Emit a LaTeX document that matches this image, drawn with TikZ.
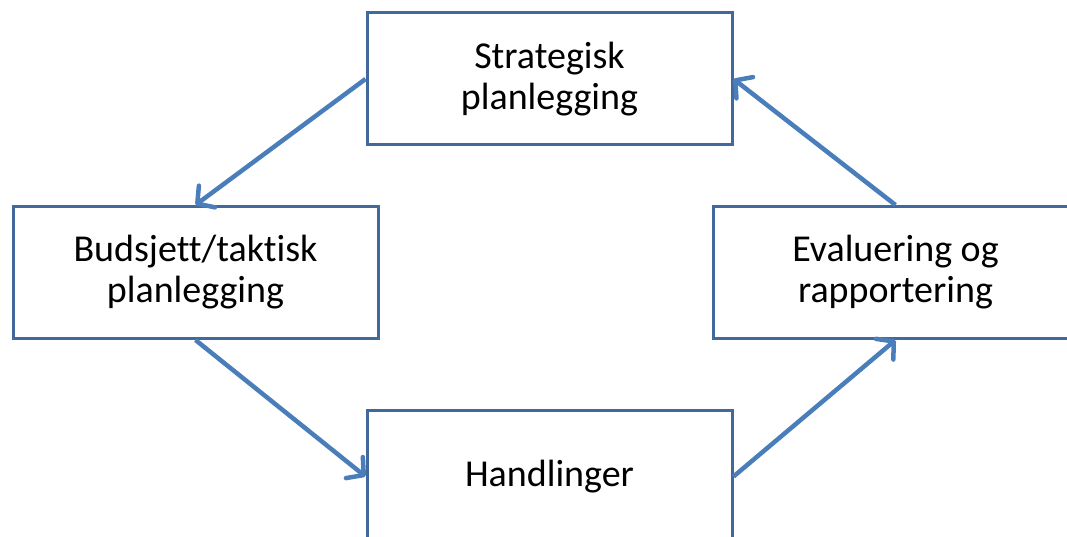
\documentclass[tikz,border=0pt]{standalone}
\usepackage{fontspec}
\setmainfont{Carlito}[RawFeature={-liga;-clig}]
\usetikzlibrary{arrows.meta}
\definecolor{boxline}{HTML}{41699C}
\definecolor{flow}{HTML}{4A7EBB}
\tikzset{
  stagebox/.style={draw=boxline, line width=3pt, fill=white, rectangle,
    minimum width=365pt, minimum height=132pt, inner sep=0pt,
    align=center, font=\fontsize{38}{41}\selectfont},
  flowarrow/.style={draw=flow, line width=4.5pt,
    -{Straight Barb[length=12pt, width=27pt, line cap=round, line join=round]}}
}
\begin{document}
\begin{tikzpicture}[x=1pt, y=-1pt]
  \useasboundingbox (0,0) rectangle (1067,537);
  % the four stages of the planning cycle
  \node[stagebox] (strat) at (549.5,79) {Strategisk\\planlegging};
  \node[stagebox] (budget) at (195.5,272.5) {Budsjett/taktisk\\planlegging};
  \node[stagebox] (eval) at (895.5,272.5) {Evaluering og\\rapportering};
  \node[stagebox, minimum height=133pt] (act) at (549.5,476.5) {Handlinger};
  % the cycle, clockwise from strategy
  \draw[flowarrow] (strat.west) -- (budget.north);
  \draw[flowarrow] (budget.south) -- (act.west);
  \draw[flowarrow] (act.east) -- (eval.south);
  \draw[flowarrow] (eval.north) -- (strat.east);
\end{tikzpicture}
\end{document}
